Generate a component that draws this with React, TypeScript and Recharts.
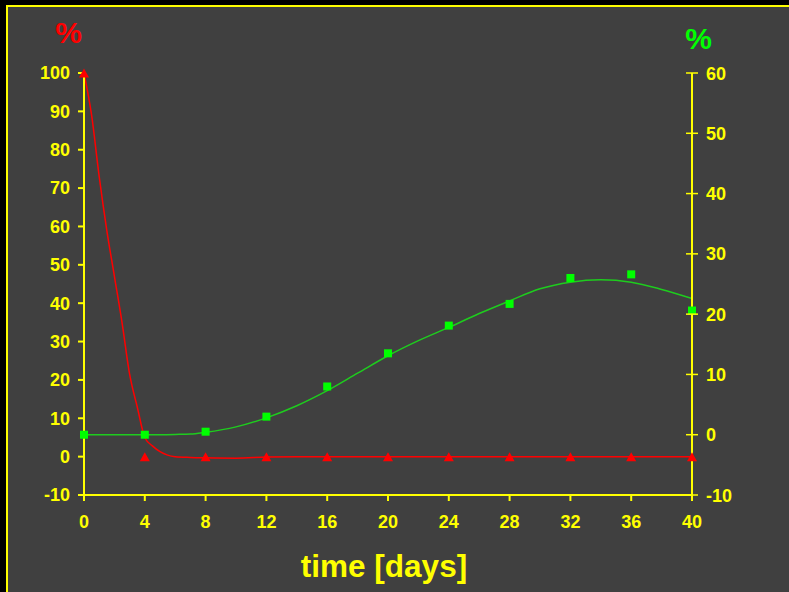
import React from "react";
import {
  ComposedChart,
  Line,
  Scatter,
  XAxis,
  YAxis,
  Label,
} from "recharts";

// measured points (markers)
const days = [0, 4, 8, 12, 16, 20, 24, 28, 32, 36, 40];
const redPct = [100, 0, 0, 0, 0, 0, 0, 0, 0, 0, 0];
const greenPct = [0, 0, 0.5, 3, 8, 13.5, 18.1, 21.7, 26.0, 26.6, 20.6];

// fitted curves
const redFitX = [0, 0.5, 1, 1.5, 2, 2.5, 3, 3.5, 4, 4.5, 5, 5.5, 6, 7, 8, 10, 12, 14, 16, 20, 24, 28, 32, 36, 40];
const redFitY = [100, 89, 73, 59, 47, 35, 21.5, 13, 5, 2.8, 1.3, 0.4, 0, -0.2, -0.3, -0.4, -0.1, 0, 0, 0, 0, 0, 0, 0, 0];
const greenFitX = [0, 2, 4, 6, 7, 8, 10, 12, 14, 16, 18, 20, 22, 24, 26, 28, 30, 32, 34, 36, 38, 40];
const greenFitY = [0, 0, 0, 0.05, 0.1, 0.4, 1.3, 2.8, 4.8, 7.3, 10.2, 13.1, 15.6, 17.8, 20.1, 22.2, 24.2, 25.3, 25.7, 25.3, 24.1, 22.6];

const xTicks = [0, 4, 8, 12, 16, 20, 24, 28, 32, 36, 40];
const leftTicks = [-10, 0, 10, 20, 30, 40, 50, 60, 70, 80, 90, 100];
const rightTicks = [-10, 0, 10, 20, 30, 40, 50, 60];

const YELLOW = "#ffff00";
const RED = "#ff0000";
const GREEN = "#00ff00";
const FONT = "'Liberation Sans', Arial, sans-serif";

const redPoints = days.map((x, i) => ({ x, y: redPct[i] }));
const greenPoints = days.map((x, i) => ({ x, y: greenPct[i] }));
const redFit = redFitX.map((x, i) => ({ x, y: redFitY[i] }));
const greenFit = greenFitX.map((x, i) => ({ x, y: greenFitY[i] }));

const tickStyle = { fill: YELLOW, fontSize: 18, fontWeight: 700, fontFamily: FONT };

function Triangle(props: any) {
  const { cx, cy } = props;
  return (
    <polygon
      points={`${cx - 5},${cy + 4.5} ${cx + 5},${cy + 4.5} ${cx},${cy - 4.5}`}
      fill={RED}
    />
  );
}

function Square(props: any) {
  const { cx, cy } = props;
  return <rect x={cx - 4} y={cy - 4} width={8} height={8} fill={GREEN} />;
}

// right axis ticks cross the axis line
function RightTick(props: any) {
  const { x, y, payload } = props;
  return (
    <g>
      <line x1={x - 20} x2={x - 8} y1={y} y2={y} stroke={YELLOW} strokeWidth={1.5} />
      <text x={x} y={y} dy={6.5} textAnchor="start" {...tickStyle}>
        {payload.value}
      </text>
    </g>
  );
}

export default function App() {
  return (
    <div style={{ position: "fixed", left: 0, top: 0, width: 789, height: 592, background: "#000", overflow: "hidden" }}>
      <div
        style={{
          position: "absolute",
          left: 6,
          top: 5,
          width: 820,
          height: 620,
          border: `2px solid ${YELLOW}`,
          background: "#404040",
        }}
      />
      <div style={{ position: "absolute", left: 0, top: 0 }}>
        <ComposedChart width={789} height={592} margin={{ top: 73, right: 84, bottom: 0, left: 53 }}>
          <XAxis
            dataKey="x"
            type="number"
            domain={[0, 40]}
            ticks={xTicks}
            stroke={YELLOW}
            strokeWidth={2}
            tick={tickStyle}
            tickSize={6}
            tickMargin={14}
            height={97}
            interval={0}
          >
            <Label
              value="time [days]"
              position="insideBottom"
              offset={15}
              dx={-4}
              style={{ fill: YELLOW, fontSize: 31.5, fontWeight: 700, fontFamily: FONT }}
            />
          </XAxis>
          <YAxis
            yAxisId="left"
            type="number"
            domain={[-10, 100]}
            ticks={leftTicks}
            stroke={YELLOW}
            strokeWidth={2}
            tick={tickStyle}
            tickSize={6}
            tickMargin={8}
            width={31}
            interval={0}
          >
            <Label
              value="%"
              position="top"
              offset={30}
              style={{ fill: RED, fontSize: 30, fontWeight: 700, fontFamily: FONT }}
            />
          </YAxis>
          <YAxis
            yAxisId="right"
            orientation="right"
            type="number"
            domain={[-10, 60]}
            ticks={rightTicks}
            stroke={YELLOW}
            strokeWidth={2}
            tick={<RightTick />}
            tickLine={false}
            tickSize={6}
            tickMargin={8}
            width={13}
            interval={0}
          >
            <Label
              value="%"
              position="top"
              offset={24}
              style={{ fill: GREEN, fontSize: 30, fontWeight: 700, fontFamily: FONT }}
            />
          </YAxis>
          <Line
            yAxisId="right"
            data={greenFit}
            dataKey="y"
            type="monotone"
            stroke="#1ecc1e"
            strokeWidth={1.5}
            dot={false}
            isAnimationActive={false}
          />
          <Line
            yAxisId="left"
            data={redFit}
            dataKey="y"
            type="monotone"
            stroke={RED}
            strokeWidth={1.5}
            dot={false}
            isAnimationActive={false}
          />
          <Scatter yAxisId="left" data={redPoints} dataKey="y" shape={<Triangle />} isAnimationActive={false} />
          <Scatter yAxisId="right" data={greenPoints} dataKey="y" shape={<Square />} isAnimationActive={false} />
        </ComposedChart>
      </div>
    </div>
  );
}
